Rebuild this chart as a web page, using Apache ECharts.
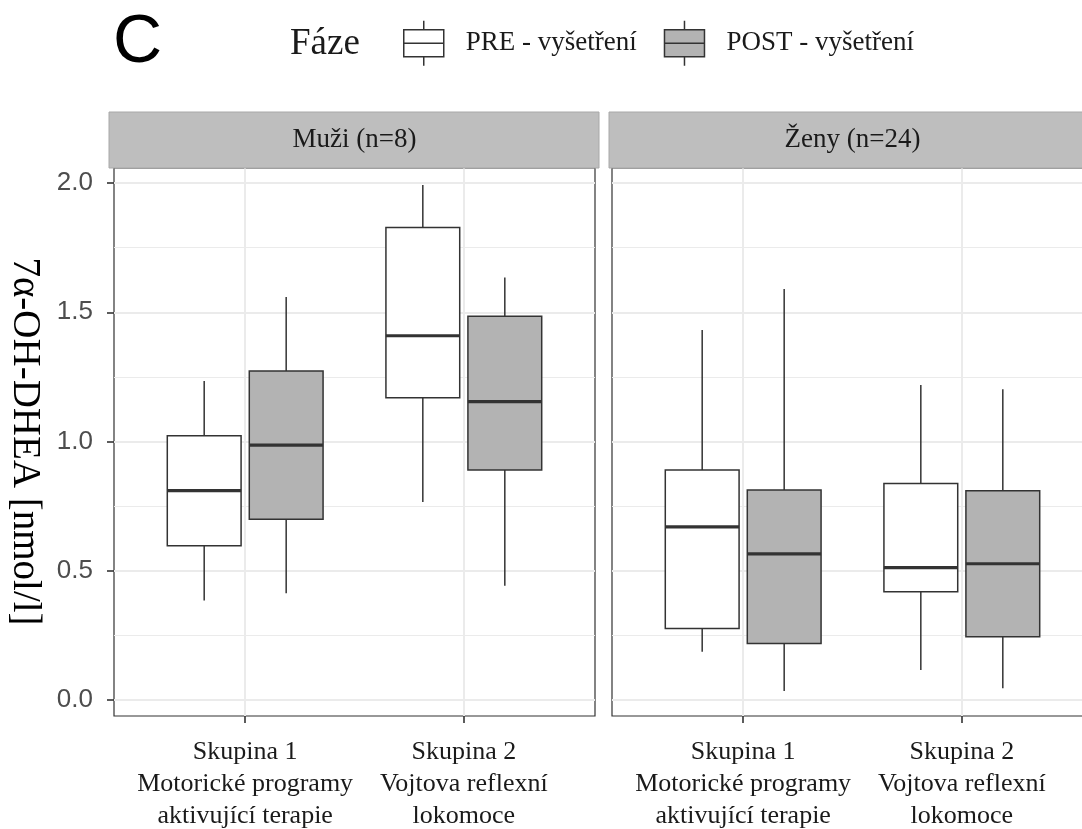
<!DOCTYPE html>
<html><head><meta charset="utf-8">
<script src="https://cdn.jsdelivr.net/npm/echarts@6/dist/echarts.min.js"></script>
<style>html,body{margin:0;padding:0;background:#fff;overflow:hidden}#chart{width:1082px;height:829px}</style>
</head><body><div id="chart"></div>
<script>
// ---- data ----
const categories = ['Skupina 1\nMotorické programy\naktivující terapie', 'Skupina 2\nVojtova reflexní\nlokomoce'];
const panels = ['Muži (n=8)', 'Ženy (n=24)'];
const phases = ['PRE - vyšetření', 'POST - vyšetření'];
const yTickValues = [0, 0.5, 1.0, 1.5, 2.0];
const yTitle = '7α-OH-DHEA [nmol/l]';
// each box: [min, Q1, median, Q3, max], one per category
const muziPre  = [[0.385, 0.597, 0.810, 1.022, 1.234], [0.766, 1.169, 1.409, 1.828, 1.992]];
const muziPost = [[0.413, 0.699, 0.986, 1.273, 1.559], [0.442, 0.890, 1.154, 1.485, 1.634]];
const zenyPre  = [[0.187, 0.277, 0.670, 0.890, 1.431], [0.116, 0.419, 0.512, 0.838, 1.219]];
const zenyPost = [[0.035, 0.219, 0.565, 0.812, 1.590], [0.045, 0.245, 0.527, 0.809, 1.202]];

// ---- layout helpers ----
// discrete axis expanded by 0.6 on each side -> 12 slots of 0.2 units, categories at slots 3 and 8
const SLOTS = 12;
const catSlot = [3, 8];
const axisData = Array.from({length: SLOTS}, (_, i) => {
  const k = catSlot.indexOf(i);
  return k >= 0 ? categories[k] : 'slot' + i;
});
const isCat = (i) => catSlot.indexOf(i) >= 0;
const fills = ['#ffffff', '#b3b3b3'];
const ink = '#333333';

const panelLeft = [114, 612];
const panelW = 481;
const panelTop = 168, panelH = 548;
const dataTop = 183, dataH = 517;

function boxData(arr) {
  return arr.map((b, k) => [catSlot[k]].concat(b));
}
function makeRender(side) {
  return function (params, api) {
    const x = api.value(0);
    const step = api.size([1, 0])[0];
    const off = side * 0.9375 * step;
    const hw = 1.6875 * step / 2;
    const pMin = api.coord([x, api.value(1)]);
    const pQ1 = api.coord([x, api.value(2)]);
    const pMed = api.coord([x, api.value(3)]);
    const pQ3 = api.coord([x, api.value(4)]);
    const pMax = api.coord([x, api.value(5)]);
    const cx = pMin[0] + off;
    const fill = side < 0 ? fills[0] : fills[1];
    return {type: 'group', children: [
      {type: 'line', shape: {x1: cx, y1: pMax[1], x2: cx, y2: pQ3[1]}, style: {stroke: ink, lineWidth: 1.5}},
      {type: 'line', shape: {x1: cx, y1: pQ1[1], x2: cx, y2: pMin[1]}, style: {stroke: ink, lineWidth: 1.5}},
      {type: 'rect', shape: {x: cx - hw, y: pQ3[1], width: 2 * hw, height: pQ1[1] - pQ3[1]}, style: {fill: fill, stroke: ink, lineWidth: 1.5}},
      {type: 'line', shape: {x1: cx - hw, y1: pMed[1], x2: cx + hw, y2: pMed[1]}, style: {stroke: ink, lineWidth: 3.2}}
    ]};
  };
}

const grids = [], xAxes = [], yAxes = [];
for (let p = 0; p < 2; p++) {
  // outer panel (border, vertical grid lines, x ticks and labels)
  grids.push({left: panelLeft[p], top: panelTop, width: panelW, height: panelH, show: true,
    borderColor: ink, borderWidth: 1.2, backgroundColor: 'transparent', outerBoundsMode: 'none', containLabel: false});
}
for (let p = 0; p < 2; p++) {
  // inner data area (0..2 on y)
  grids.push({left: panelLeft[p], top: dataTop, width: panelW, height: dataH, outerBoundsMode: 'none', containLabel: false});
}
for (let p = 0; p < 2; p++) {
  xAxes.push({type: 'category', gridIndex: p, data: axisData, boundaryGap: false,
    axisLine: {show: false},
    axisTick: {show: true, interval: (i) => isCat(i), length: 7, lineStyle: {color: ink, width: 1.6}},
    splitLine: {show: true, interval: (i) => isCat(i), lineStyle: {color: '#ebebeb', width: 2}},
    axisLabel: {show: true, interval: (i) => isCat(i), margin: 20, fontFamily: 'Liberation Serif', fontSize: 26,
      lineHeight: 32, color: '#1a1a1a', align: 'center', hideOverlap: false}
  });
  yAxes.push({type: 'value', gridIndex: p, min: 0, max: 1, show: false});
}
for (let p = 0; p < 2; p++) {
  xAxes.push({type: 'category', gridIndex: 2 + p, data: axisData, boundaryGap: false, show: false});
  yAxes.push({type: 'value', gridIndex: 2 + p, min: yTickValues[0], max: yTickValues[yTickValues.length - 1], interval: 0.5,
    axisLine: {show: false},
    axisTick: {show: p === 0, length: 7, lineStyle: {color: ink, width: 1.6}},
    axisLabel: {show: p === 0, margin: 21, fontFamily: 'Liberation Sans', fontSize: 26, color: '#4d4d4d',
      formatter: (v) => v.toFixed(1)},
    splitLine: {show: true, lineStyle: {color: '#ebebeb', width: 2}},
    minorTick: {show: false, splitNumber: 2},
    minorSplitLine: {show: true, lineStyle: {color: '#ebebeb', width: 1.2}},
    name: p === 0 ? yTitle : '', nameLocation: 'middle', nameRotate: -90, nameGap: 70,
    nameTextStyle: {fontFamily: 'Liberation Serif', fontSize: 39, color: '#000'}
  });
}

const seriesSpec = [
  [muziPre, 2, -1, phases[0]], [muziPost, 2, 1, phases[1]],
  [zenyPre, 3, -1, phases[0]], [zenyPost, 3, 1, phases[1]]
];
const series = seriesSpec.map(([arr, ax, side, name]) => ({
  type: 'custom', name: name, xAxisIndex: ax, yAxisIndex: ax, clip: false,
  itemStyle: {color: side < 0 ? fills[0] : fills[1], borderColor: ink},
  renderItem: makeRender(side), data: boxData(arr), silent: true
}));

const boxIcon = 'path://M20,0L20,9M0,9L40,9L40,36L0,36ZM0,22.5L40,22.5M20,36L20,45';

const stripGraphics = [];
const stripX = [[109, 599], [609, 1100]];
for (let p = 0; p < 2; p++) {
  stripGraphics.push({type: 'rect', shape: {x: stripX[p][0], y: 112, width: stripX[p][1] - stripX[p][0], height: 56},
    style: {fill: '#bebebe', stroke: '#a8a8a8', lineWidth: 1}, z: 5});
  stripGraphics.push({type: 'text', x: panelLeft[p] + panelW / 2, y: 140,
    style: {text: panels[p], fill: '#1a1a1a', font: '27px "Liberation Serif"', textAlign: 'center', textVerticalAlign: 'middle'}, z: 6});
}

const option = {
  backgroundColor: '#ffffff',
  animation: false,
  grid: grids,
  xAxis: xAxes,
  yAxis: yAxes,
  legend: {
    left: 403, top: 20, padding: 0, itemWidth: 40, itemHeight: 45, itemGap: 27, selectedMode: false,
    textStyle: {fontFamily: 'Liberation Serif', fontSize: 27, color: '#1a1a1a', padding: [0, 0, 0, 17]},
    data: [
      {name: phases[0], icon: boxIcon, itemStyle: {color: fills[0], borderColor: ink, borderWidth: 1.5}},
      {name: phases[1], icon: boxIcon, itemStyle: {color: fills[1], borderColor: ink, borderWidth: 1.5}}
    ]
  },
  graphic: [
    {type: 'text', x: 113, y: 43, style: {text: 'C', fill: '#000', font: '68px "Liberation Sans"', textVerticalAlign: 'middle'}},
    {type: 'text', x: 290, y: 44, style: {text: 'Fáze', fill: '#1a1a1a', font: '37px "Liberation Serif"', textVerticalAlign: 'middle'}}
  ].concat(stripGraphics),
  series: series
};
const chart = echarts.init(document.getElementById('chart'), null, {renderer: 'canvas'});
chart.setOption(option);
</script></body></html>
